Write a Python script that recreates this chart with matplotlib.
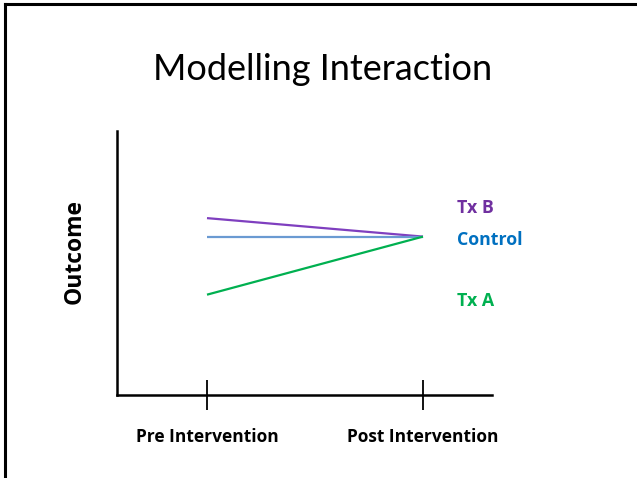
import matplotlib
matplotlib.use("Agg")
import matplotlib.pyplot as plt
from matplotlib.lines import Line2D

# Data (arbitrary outcome units)
phases = ["Pre Intervention", "Post Intervention"]
tx_b = [6.7, 6.0]
control = [6.0, 6.0]
tx_a = [3.8, 6.0]

series_names = ["Tx B", "Control", "Tx A"]
line_colors = ["#7F3FBF", "#6A9AD2", "#00B050"]
label_colors = ["#7030A0", "#0070C0", "#00B050"]
label_y = [7.08, 5.87, 3.56]

plt.rcParams["font.family"] = ["Lato", "DejaVu Sans"]
BOLD = ["Open Sans", "DejaVu Sans"]

fig = plt.figure(figsize=(6.37, 4.78), dpi=100)
ax = fig.add_axes([117 / 637, 1 - 395 / 478, 375 / 637, 264 / 478])

xs = list(range(len(phases)))
for vals, col in zip([tx_b, control, tx_a], line_colors):
    ax.plot(xs, vals, color=col, lw=1.6, solid_capstyle="butt")

for name, col, ly in zip(series_names, label_colors, label_y):
    ax.text(1.157, ly, name, color=col, fontsize=12.8, fontweight="bold",
            family=BOLD, ha="left", va="center")

ax.set_xlim(-90 / 216, 1 + 69 / 216)
ax.set_ylim(0, 10)
ax.set_xticks(xs)
ax.set_xticklabels(phases, fontsize=12.5, fontweight="bold", family=BOLD)
ax.tick_params(axis="x", direction="inout", length=22, width=1.3, pad=13)
ax.set_yticks([])
for side in ["top", "right"]:
    ax.spines[side].set_visible(False)
for side in ["left", "bottom"]:
    ax.spines[side].set_linewidth(1.8)

fig.text(75 / 637, 1 - 252 / 478, "Outcome", rotation=90, fontsize=16.5,
         fontweight="bold", family=BOLD, ha="center", va="center")

fig.text(0.507, 1 - 70 / 478, "Modelling Interaction", fontsize=26,
         ha="center", va="center")

# slide frame (top and left edges visible)
fig.add_artist(Line2D([5 / 637, 5 / 637], [0, 1 - 4 / 478], color="black", lw=2.2))
fig.add_artist(Line2D([5 / 637, 1], [1 - 4 / 478, 1 - 4 / 478], color="black", lw=2.2))

fig.savefig("out.png", dpi=100)
